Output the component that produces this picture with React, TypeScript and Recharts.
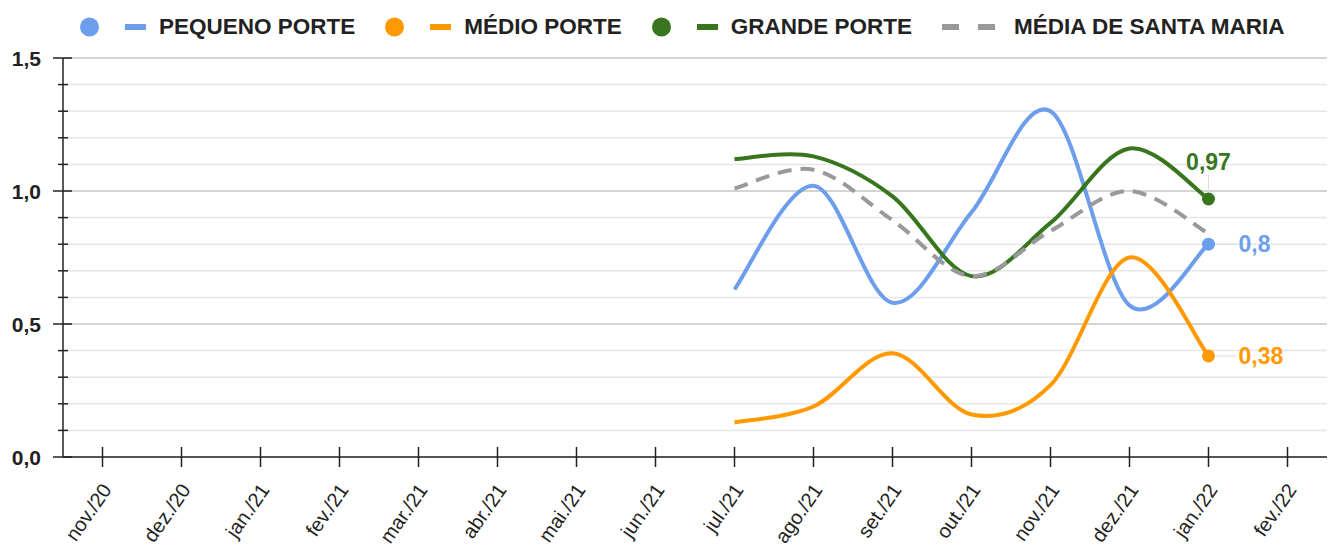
import React from 'react';
import { LineChart, Line, XAxis, YAxis, CartesianGrid, ReferenceLine, Legend } from 'recharts';

const months = ['nov./20', 'dez./20', 'jan./21', 'fev./21', 'mar./21', 'abr./21', 'mai./21', 'jun./21',
    'jul./21', 'ago./21', 'set./21', 'out./21', 'nov./21', 'dez./21', 'jan./22', 'fev./22'];
const pequeno = [null, null, null, null, null, null, null, null, 0.63, 1.02, 0.58, 0.92, 1.30, 0.57, 0.80, null];
const medio = [null, null, null, null, null, null, null, null, 0.13, 0.19, 0.39, 0.16, 0.27, 0.75, 0.38, null];
const grande = [null, null, null, null, null, null, null, null, 1.12, 1.13, 0.98, 0.68, 0.88, 1.16, 0.97, null];
const mediaSM = [null, null, null, null, null, null, null, null, 1.01, 1.08, 0.89, 0.68, 0.85, 1.00, 0.84, null];
const yTicks = [0, 0.1, 0.2, 0.3, 0.4, 0.5, 0.6, 0.7, 0.8, 0.9, 1.0, 1.1, 1.2, 1.3, 1.4, 1.5];

const series = [
    { key: 'pequeno', name: 'PEQUENO PORTE', color: '#6d9eeb', dashed: false, label: 'right' },
    { key: 'medio', name: 'MÉDIO PORTE', color: '#ff9900', dashed: false, label: 'right' },
    { key: 'grande', name: 'GRANDE PORTE', color: '#38761d', dashed: false, label: 'top' },
    { key: 'media', name: 'MÉDIA DE SANTA MARIA', color: '#999999', dashed: true, label: 'none' },
];

const data = months.map((m, i) => ({
    month: m,
    pequeno: pequeno[i],
    medio: medio[i],
    grande: grande[i],
    media: mediaSM[i],
}));

const FONT = '"Liberation Sans", Arial, sans-serif';
const fmt = (v: number, dec?: number) => (dec === undefined ? String(v) : v.toFixed(dec)).replace('.', ',');

// catmull-rom, close to the smoothing of the original sheet
const smooth = (ctx: any) => {
    let pts: number[][] = [];
    return {
        areaStart() { },
        areaEnd() { },
        lineStart() { pts = []; },
        point(x: number, y: number) { pts.push([+x, +y]); },
        lineEnd() {
            if (!pts.length) return;
            ctx.moveTo(pts[0][0], pts[0][1]);
            for (let i = 0; i < pts.length - 1; i++) {
                const p0 = pts[i - 1] || pts[i];
                const p1 = pts[i];
                const p2 = pts[i + 1];
                const p3 = pts[i + 2] || p2;
                ctx.bezierCurveTo(
                    p1[0] + (p2[0] - p0[0]) / 6, p1[1] + (p2[1] - p0[1]) / 6,
                    p2[0] - (p3[0] - p1[0]) / 6, p2[1] - (p3[1] - p1[1]) / 6,
                    p2[0], p2[1]);
            }
        },
    };
};

const YTick = (props: any) => {
    const { x, y, payload } = props;
    const major = Math.abs(payload.value * 2 - Math.round(payload.value * 2)) < 1e-6;
    return (
        <g>
            <line x1={major ? x - 10 : x - 5} x2={major ? x + 9 : x + 5} y1={y} y2={y} stroke="#222" strokeWidth={1.5} />
            {major && (
                <text x={x - 22} y={y} textAnchor="end" dominantBaseline="central" fontFamily={FONT}
                    fontWeight="bold" fontSize={21} fill="#222">{fmt(payload.value, 1)}</text>
            )}
        </g>
    );
};

const XTick = (props: any) => {
    const { x, y, payload } = props;
    const tx = x + 10, ty = y + 33;
    return (
        <g>
            <line x1={x} x2={x} y1={y - 10} y2={y + 10} stroke="#222" strokeWidth={1.5} />
            <text x={tx} y={ty} textAnchor="end" transform={`rotate(-55, ${tx}, ${ty})`} fontFamily={FONT}
                fontSize={20} fill="#222">{payload.value}</text>
        </g>
    );
};

const lastIdx = 14;
const makeDot = (color: string, label: string) => (props: any) => {
    const { cx, cy, index, value } = props;
    if (index !== lastIdx || cx == null || cy == null) return <g key={`d-${index}`} />;
    return (
        <g key={`d-${index}`}>
            {label === 'right' && <line x1={cx + 7} x2={cx + 28} y1={cy} y2={cy} stroke="#dddddd" strokeWidth={1} />}
            {label === 'top' && <line x1={cx} x2={cx} y1={cy - 7} y2={cy - 24} stroke="#dddddd" strokeWidth={1} />}
            <circle cx={cx} cy={cy} r={6.5} fill={color} />
            {label === 'right' && (
                <text x={cx + 30} y={cy} dominantBaseline="central" fontFamily={FONT} fontWeight="bold"
                    fontSize={23} fill={color}>{fmt(value)}</text>
            )}
            {label === 'top' && (
                <text x={cx} y={cy - 29} textAnchor="middle" fontFamily={FONT} fontWeight="bold"
                    fontSize={23} fill={color}>{fmt(value)}</text>
            )}
        </g>
    );
};

const LegendBox = () => (
    <div style={{ height: 54, display: 'flex', alignItems: 'center', paddingLeft: 80, fontFamily: FONT }}>
        {series.map(s => (
            <div key={s.key} style={{ display: 'flex', alignItems: 'center', marginRight: 30 }}>
                {s.dashed ? (
                    <svg width={59} height={20} style={{ marginRight: 13 }}>
                        <rect x={0} y={7} width={17} height={6} fill={s.color} />
                        <rect x={36} y={7} width={17} height={6} fill={s.color} />
                    </svg>
                ) : (
                    <svg width={66} height={20} style={{ marginRight: 13 }}>
                        <circle cx={9.5} cy={10} r={9.5} fill={s.color} />
                        <rect x={45} y={7} width={21} height={6} fill={s.color} />
                    </svg>
                )}
                <span style={{ fontWeight: 'bold', fontSize: 22.5, color: '#222', whiteSpace: 'nowrap' }}>{s.name}</span>
            </div>
        ))}
    </div>
);

const App: React.FC = () => {
    return (
        <div style={{ position: 'absolute', left: 0, top: 0, background: '#fff' }}>
            <LineChart width={1330} height={553} data={data} margin={{ top: 4, right: 3, left: 0, bottom: 6 }}>
                <Legend verticalAlign="top" content={<LegendBox />} wrapperStyle={{ top: 0, left: 0, width: 1330, height: 54 }} />
                <CartesianGrid vertical={false} stroke="#e6e6e6" strokeWidth={1.5} />
                <ReferenceLine y={0.5} stroke="#cccccc" strokeWidth={1.5} />
                <ReferenceLine y={1.0} stroke="#cccccc" strokeWidth={1.5} />
                <ReferenceLine y={1.5} stroke="#cccccc" strokeWidth={1.5} />
                <XAxis dataKey="month" height={90} interval={0} padding={{ left: 39.5, right: 39.5 }}
                    tickSize={0} tickMargin={0} tickLine={false} tick={<XTick />}
                    axisLine={{ stroke: '#222', strokeWidth: 1.5 }} />
                <YAxis width={63} domain={[0, 1.5]} ticks={yTicks} interval={0} tickSize={0} tickMargin={0}
                    tickLine={false} tick={<YTick />} axisLine={{ stroke: '#222', strokeWidth: 1.5 }} />
                {series.map(s => (
                    <Line key={s.key} dataKey={s.key} name={s.name} type={smooth as any} stroke={s.color}
                        strokeWidth={4} strokeDasharray={s.dashed ? '14 9' : undefined}
                        dot={s.dashed ? false : makeDot(s.color, s.label)} activeDot={false}
                        connectNulls={false} isAnimationActive={false} />
                ))}
            </LineChart>
        </div>
    );
};

export default App;
